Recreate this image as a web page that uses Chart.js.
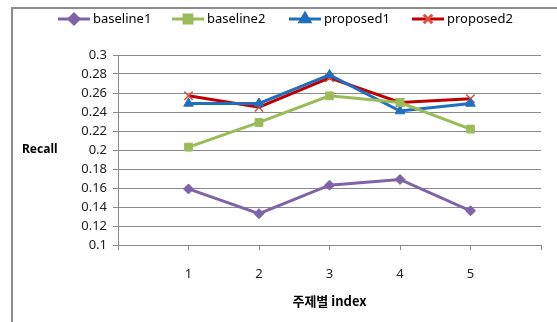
<!DOCTYPE html>
<html>
<head>
<meta charset="utf-8">
<script src="https://cdn.jsdelivr.net/npm/chart.js@4/dist/chart.umd.min.js"></script>
<style>
  html, body { margin: 0; padding: 0; background: #fff; }
  #wrap { width: 557px; height: 322px; position: relative; }
</style>
</head>
<body>
<div id="wrap"><canvas id="js-line-chart"></canvas></div>
<script>
// Chart data
const categories = [1, 2, 3, 4, 5];
const baseline1 = [0.159, 0.133, 0.163, 0.169, 0.136];
const baseline2 = [0.203, 0.229, 0.257, 0.250, 0.222];
const proposed1 = [0.249, 0.249, 0.279, 0.241, 0.249];
const proposed2 = [0.257, 0.245, 0.276, 0.250, 0.254];
const yTicks = [0.1, 0.12, 0.14, 0.16, 0.18, 0.2, 0.22, 0.24, 0.26, 0.28, 0.3];

const FONT = "'Noto Sans', 'Liberation Sans', sans-serif";

function pts(values) {
  return values.map((v, i) => ({ x: categories[i], y: v }));
}

const series = [
  { label: 'baseline1', data: baseline1, color: '#7F63A8', marker: '#7F63A8', style: 'rectRot', r: 5 },
  { label: 'baseline2', data: baseline2, color: '#9BBB59', marker: '#9BBB59', style: 'rect', r: 5.5 },
  { label: 'proposed1', data: proposed1, color: '#1F6FC0', marker: '#1F6FC0', style: 'triangle', r: 5.5 },
  { label: 'proposed2', data: proposed2, color: '#C00000', marker: '#E0503C', style: 'crossRot', r: 6 },
];

// draws the frame, axis titles and the legend with line + marker swatches
const decorations = {
  id: 'decorations',
  afterDraw(chart) {
    const ctx = chart.ctx;
    const area = chart.chartArea;
    ctx.save();
    // outer frame
    ctx.strokeStyle = '#8c8c8c';
    ctx.lineWidth = 2;
    ctx.strokeRect(12, 8, 600, 400);

    // y title (horizontal like Excel)
    ctx.fillStyle = '#000';
    ctx.font = "bold 12px " + FONT;
    ctx.textAlign = 'left';
    ctx.textBaseline = 'middle';
    ctx.fillText('Recall', 22, 150);

    // x title
    ctx.font = "bold 13px 'Noto Sans CJK KR', " + FONT;
    ctx.textAlign = 'center';
    ctx.fillText('주제별 index', (area.left + area.right) / 2, 301);

    // legend
    const legendX = [58, 172, 289, 412];
    const y = 19;
    ctx.font = "13px " + FONT;
    ctx.textAlign = 'left';
    series.forEach((s, i) => {
      const x0 = legendX[i];
      ctx.strokeStyle = s.color;
      ctx.lineWidth = 3;
      ctx.beginPath();
      ctx.moveTo(x0, y);
      ctx.lineTo(x0 + 32, y);
      ctx.stroke();
      ctx.fillStyle = s.marker;
      ctx.strokeStyle = s.marker;
      ctx.beginPath();
      Chart.helpers.drawPoint(ctx, {
        pointStyle: s.style, radius: s.r, rotation: 0, borderWidth: s.style === 'crossRot' ? 1.5 : 1
      }, x0 + 16, y);
      ctx.fillStyle = '#000';
      ctx.fillText(s.label, x0 + 35, y);
    });
    ctx.restore();
  }
};

const lineChartContext = document.getElementById('js-line-chart').getContext('2d');

const newLineChart = new Chart(lineChartContext, {
  type: 'line',
  data: {
    datasets: series.map(s => ({
      label: s.label,
      data: pts(s.data),
      borderColor: s.color,
      backgroundColor: s.marker,
      pointBorderColor: s.marker,
      pointBackgroundColor: s.marker,
      borderWidth: 3,
      pointStyle: s.style,
      pointRadius: s.r,
      pointBorderWidth: s.style === 'crossRot' ? 1.5 : 1,
      tension: 0,
    })),
  },
  options: {
    responsive: true,
    maintainAspectRatio: false,
    animation: false,
    layout: { padding: { top: 55, right: 4, left: 0, bottom: 0 } },
    plugins: {
      legend: { display: false },
      tooltip: { enabled: false },
    },
    scales: {
      x: {
        type: 'linear',
        min: 0,
        max: 6,
        afterBuildTicks(scale) {
          scale.ticks = [0, 1, 2, 3, 4, 5, 6].map(v => ({ value: v }));
        },
        afterFit(scale) { scale.height = 77; },
        border: { color: '#888', width: 1 },
        grid: { drawOnChartArea: false, drawTicks: true, tickLength: 5, color: '#888' },
        ticks: {
          padding: 16,
          color: '#222',
          font: { size: 13, family: FONT },
          callback: v => (categories.includes(v) ? String(v) : ''),
        },
      },
      y: {
        min: 0.1,
        max: 0.3,
        afterBuildTicks(scale) {
          scale.ticks = yTicks.map(v => ({ value: v }));
        },
        afterFit(scale) { scale.width = 118; },
        border: { color: '#888', width: 1 },
        grid: { color: '#8a8a8a', lineWidth: 1, tickLength: 5 },
        ticks: {
          padding: 6,
          color: '#222',
          font: { size: 13, family: FONT },
          callback: v => String(+v.toFixed(2)),
        },
      },
    },
  },
  plugins: [decorations],
});
</script>
</body>
</html>
